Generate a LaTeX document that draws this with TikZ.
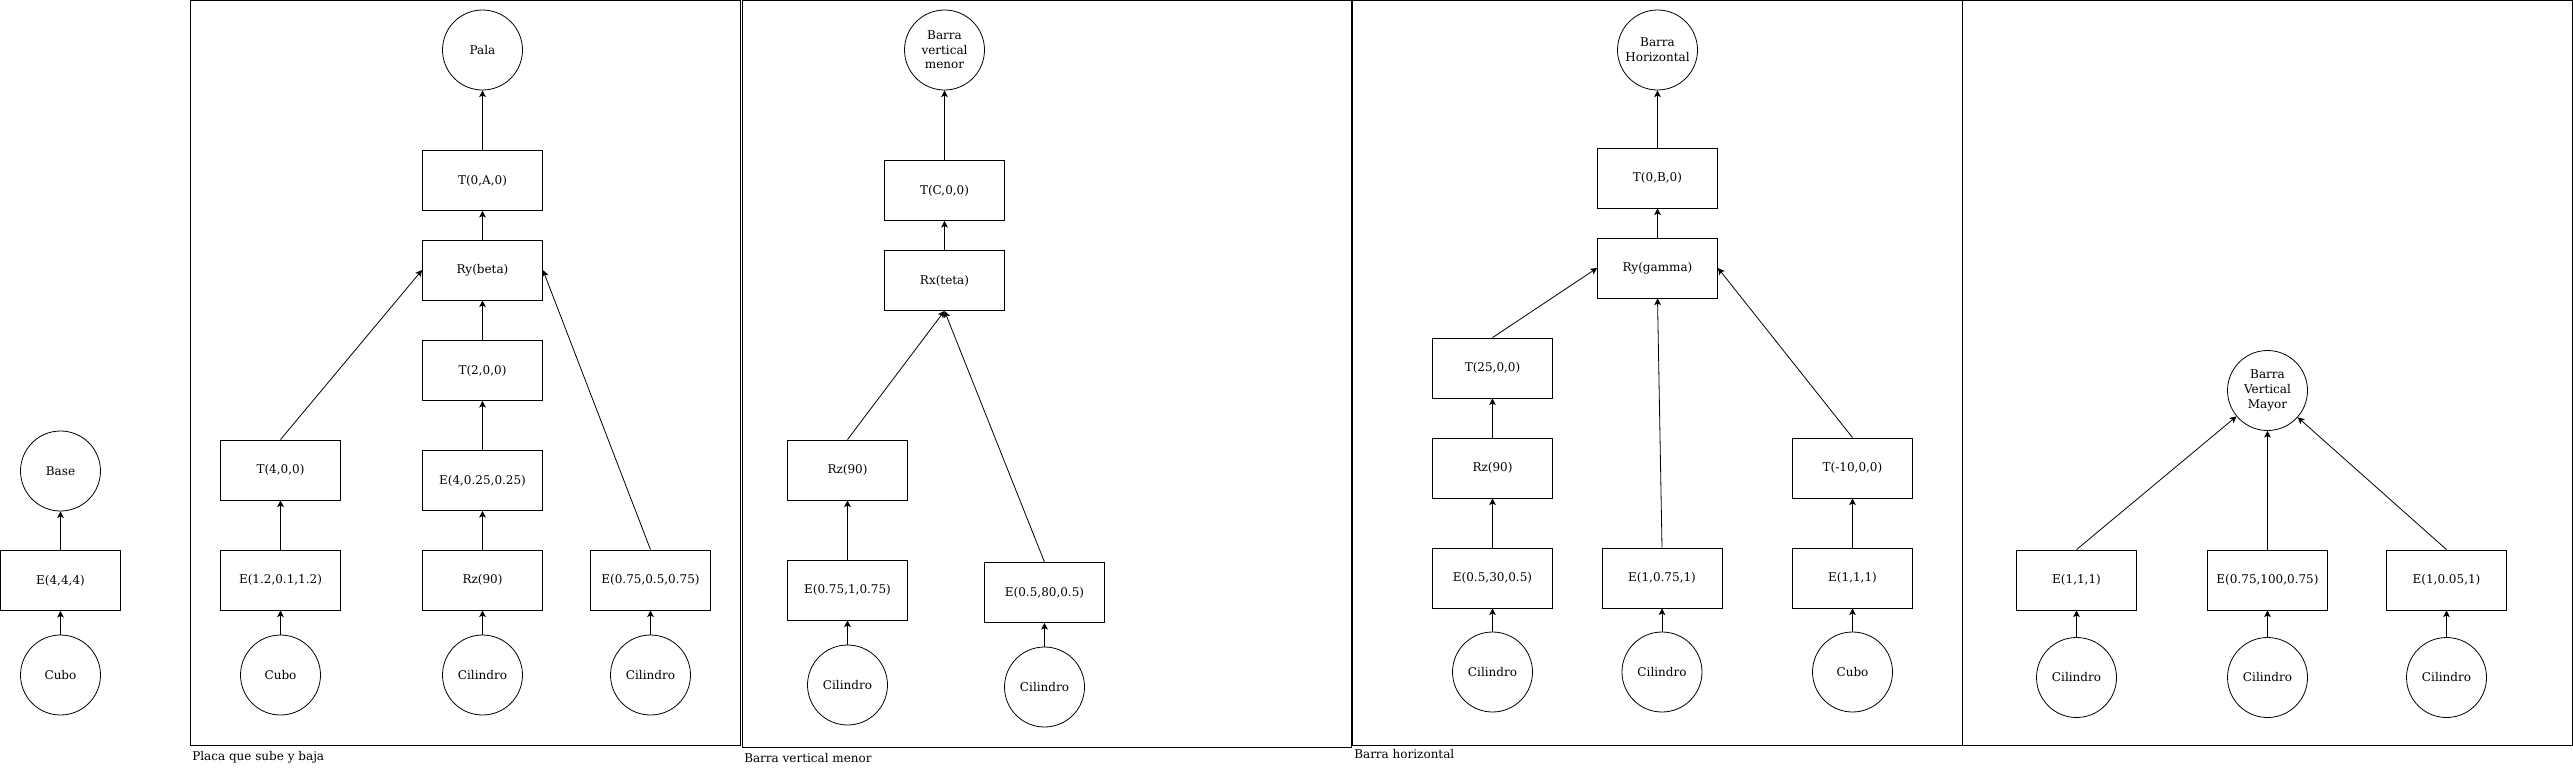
\documentclass[tikz,border=0pt]{standalone}
\usepackage{fontspec}
\setmainfont{DejaVu Serif}
\usetikzlibrary{arrows.meta}
\begin{document}
\begin{tikzpicture}[x=0.75pt,y=-0.75pt,
  every node/.style={font=\fontsize{9}{11}\selectfont},
  box/.style={draw, rectangle, minimum width=90pt, minimum height=45pt, inner sep=0pt, line width=0.6pt},
  obj/.style={draw, circle, minimum size=60pt, inner sep=0pt, align=center, line width=0.6pt},
  frame/.style={draw, line width=0.75pt},
  arr/.style={-{Stealth[length=5pt,width=5pt,inset=1.2pt]}, line width=0.6pt},
  lbl/.style={anchor=base west, inner sep=0pt}]
\useasboundingbox (0,0) rectangle (2573,768);

% frames
\draw[frame] (190.5,0.5) rectangle (740,745.5);
\draw[frame] (742.5,0.5) rectangle (1351,747.5);
\draw[frame] (1352.5,0.5) rectangle (1962,745);
\draw[frame] (1962,0.5) rectangle (2572,745);
\node[lbl] (l1) at (192,760) {Placa que sube y baja};
\node[lbl] (l2) at (744,762) {Barra vertical menor};
\node[lbl] (l3) at (1354,758) {Barra horizontal};

% Base
\node[obj] (base) at (60.5,471) {Base};
\node[box] (e444) at (60.5,580.5) {E(4,4,4)};
\node[obj] (cubo0) at (60.5,675) {Cubo};
\draw[arr] (cubo0) -- (e444);
\draw[arr] (e444) -- (base);

% Placa
\node[obj] (pala) at (482.5,50) {Pala};
\node[box] (t0a) at (482.5,180.5) {T(0,A,0)};
\node[box] (rybeta) at (482.5,270) {Ry(beta)};
\node[box] (t200) at (482.5,370.5) {T(2,0,0)};
\node[box] (e4) at (482.5,480.5) {E(4,0.25,0.25)};
\node[box] (rz1) at (482.5,580) {Rz(90)};
\node[obj] (cil1a) at (482.5,675) {Cilindro};
\node[box] (t400) at (280.5,470) {T(4,0,0)};
\node[box] (e12) at (280.5,580) {E(1.2,0.1,1.2)};
\node[obj] (cubo1) at (280.5,675) {Cubo};
\node[box] (e075) at (650.5,580) {E(0.75,0.5,0.75)};
\node[obj] (cil1b) at (650.5,675) {Cilindro};
\draw[arr] (t0a) -- (pala);
\draw[arr] (rybeta) -- (t0a);
\draw[arr] (t200) -- (rybeta);
\draw[arr] (e4) -- (t200);
\draw[arr] (rz1) -- (e4);
\draw[arr] (cil1a) -- (rz1);
\draw[arr] (cubo1) -- (e12);
\draw[arr] (e12) -- (t400);
\draw[arr] (t400.north) -- (rybeta.west);
\draw[arr] (cil1b) -- (e075);
\draw[arr] (e075.north) -- (rybeta.east);

% Barra vertical menor
\node[obj] (bvm) at (944.5,50) {Barra\\vertical\\menor};
\node[box] (tc) at (944.5,190.5) {T(C,0,0)};
\node[box] (rx) at (944.5,280.5) {Rx(teta)};
\node[box] (rz2) at (847.5,470) {Rz(90)};
\node[box] (e0751) at (847.5,590) {E(0.75,1,0.75)};
\node[obj] (cil2a) at (847.5,685) {Cilindro};
\node[box] (e0580) at (1044.5,592.5) {E(0.5,80,0.5)};
\node[obj] (cil2b) at (1044.5,687) {Cilindro};
\draw[arr] (tc) -- (bvm);
\draw[arr] (rx) -- (tc);
\draw[arr] (rz2.north) -- (rx.south);
\draw[arr] (e0580.north) -- (rx.south);
\draw[arr] (e0751) -- (rz2);
\draw[arr] (cil2a) -- (e0751);
\draw[arr] (cil2b) -- (e0580);

% Barra horizontal
\node[obj] (bh) at (1657.5,50) {Barra\\Horizontal};
\node[box] (t0b) at (1657.5,178) {T(0,B,0)};
\node[box] (rygamma) at (1657.5,268) {Ry(gamma)};
\node[box] (t25) at (1492.5,368) {T(25,0,0)};
\node[box] (rz3) at (1492.5,468) {Rz(90)};
\node[box] (e0530) at (1492.5,578) {E(0.5,30,0.5)};
\node[obj] (cil3a) at (1492.5,672) {Cilindro};
\node[box] (e1075) at (1662,578) {E(1,0.75,1)};
\node[obj] (cil3b) at (1662,672) {Cilindro};
\node[box] (tm10) at (1852.5,468) {T(-10,0,0)};
\node[box] (e111a) at (1852.5,578) {E(1,1,1)};
\node[obj] (cubo3) at (1852.5,672) {Cubo};
\draw[arr] (t0b) -- (bh);
\draw[arr] (rygamma) -- (t0b);
\draw[arr] (t25.north) -- (rygamma.west);
\draw[arr] (rz3) -- (t25);
\draw[arr] (e0530) -- (rz3);
\draw[arr] (cil3a) -- (e0530);
\draw[arr] (e1075.north) -- (rygamma.south);
\draw[arr] (cil3b) -- (e1075);
\draw[arr] (tm10.north) -- (rygamma.east);
\draw[arr] (e111a) -- (tm10);
\draw[arr] (cubo3) -- (e111a);

% Barra vertical mayor
\node[obj] (bvmay) at (2267.5,390.5) {Barra\\Vertical\\Mayor};
\node[box] (e111b) at (2076.5,580) {E(1,1,1)};
\node[box] (e075100) at (2267.5,580) {E(0.75,100,0.75)};
\node[box] (e1005) at (2446.5,580) {E(1,0.05,1)};
\node[obj] (cil4a) at (2076.5,677.5) {Cilindro};
\node[obj] (cil4b) at (2267.5,677.5) {Cilindro};
\node[obj] (cil4c) at (2446.5,677.5) {Cilindro};
\draw[arr] (e111b.north) -- (bvmay);
\draw[arr] (e075100) -- (bvmay);
\draw[arr] (e1005.north) -- (bvmay);
\draw[arr] (cil4a) -- (e111b);
\draw[arr] (cil4b) -- (e075100);
\draw[arr] (cil4c) -- (e1005);
\end{tikzpicture}
\end{document}
